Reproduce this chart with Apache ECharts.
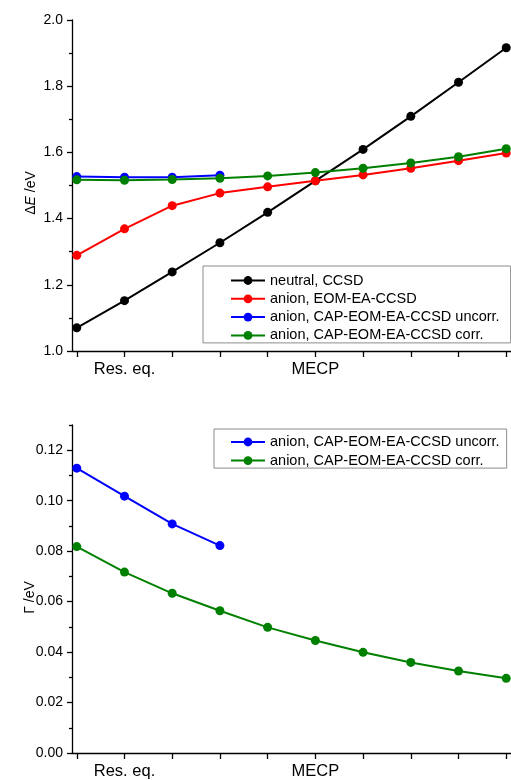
<!DOCTYPE html>
<html>
<head>
<meta charset="utf-8">
<script src="https://cdn.jsdelivr.net/npm/echarts@6/dist/echarts.min.js"></script>
<style>
  html, body { margin: 0; padding: 0; background: #ffffff; }
  #chart { width: 511px; height: 780px; }
</style>
</head>
<body>
<div id="chart"></div>
<script>
// Points along the reaction path (structure index)
const pathIndex = [0, 1, 2, 3, 4, 5, 6, 7, 8, 9];
const pathLabelAt = [1, 5];
const pathLabelText = ['Res. eq.', 'MECP'];

// Energies, eV
const neutralCCSD     = [1.070, 1.152, 1.239, 1.327, 1.419, 1.514, 1.609, 1.709, 1.812, 1.916];
const anionEOM        = [1.289, 1.369, 1.439, 1.477, 1.496, 1.514, 1.532, 1.552, 1.575, 1.598];
const anionCapUncorrE = [1.527, 1.525, 1.525, 1.531];
const anionCapCorrE   = [1.517, 1.516, 1.518, 1.522, 1.529, 1.539, 1.552, 1.568, 1.587, 1.611];

// Resonance widths, eV
const anionCapUncorrW = [0.1129, 0.1018, 0.0908, 0.0822];
const anionCapCorrW   = [0.0818, 0.0717, 0.0633, 0.0564, 0.0498, 0.0446, 0.0399, 0.0359, 0.0325, 0.0296];

// Axis ticks
const widthMajorTicks = [0, 0.02, 0.04, 0.06, 0.08, 0.10, 0.12];
const widthMinorTicks = [0.01, 0.03, 0.05, 0.07, 0.09, 0.11, 0.13];

const names = [
  'neutral, CCSD',
  'anion, EOM-EA-CCSD',
  'anion, CAP-EOM-EA-CCSD uncorr.',
  'anion, CAP-EOM-EA-CCSD corr.'
];
const colors = ['#000000', '#ff0000', '#0000ff', '#008000'];

const FONT = "'Liberation Sans', Arial, Helvetica, sans-serif";
const axisStroke = { color: '#000000', width: 1.3 };

function pairs(values) {
  return values.map((v, i) => [pathIndex[i], v]);
}

function pathAxis(gridIndex) {
  return {
    type: 'value', gridIndex: gridIndex, min: -0.1, max: 9.1,
    splitLine: { show: false },
    axisLine: { show: true, onZero: false, lineStyle: axisStroke },
    axisTick: { show: true, customValues: pathIndex, length: 6, lineStyle: axisStroke },
    axisLabel: {
      customValues: pathLabelAt,
      formatter: v => { const k = pathLabelAt.indexOf(Math.round(v)); return k >= 0 ? pathLabelText[k] : ''; },
      fontFamily: FONT, fontSize: 16.5, color: '#000000', margin: 10
    }
  };
}

function lineSeries(name, color, values, gridIdx, yIdx) {
  return {
    name: name, type: 'line', xAxisIndex: gridIdx, yAxisIndex: yIdx,
    data: pairs(values),
    symbol: 'circle', symbolSize: 9, showSymbol: true,
    lineStyle: { color: color, width: 2 },
    itemStyle: { color: color, borderWidth: 0 },
    emphasis: { disabled: true },
    animation: false
  };
}

const legendText = { fontFamily: FONT, fontSize: 14.5, color: '#000000' };

const option = {
  backgroundColor: '#ffffff',
  animation: false,
  grid: [
    { left: 72, top: 20, width: 441.6, height: 331 },
    { left: 72, top: 425, width: 441.6, height: 331 }
  ],
  xAxis: [pathAxis(0), pathAxis(1)],
  yAxis: [
    {
      type: 'value', gridIndex: 0, position: 'left', min: 1.0, max: 2.0, interval: 0.2,
      splitLine: { show: false },
      axisLine: { show: true, onZero: false, lineStyle: axisStroke },
      axisTick: { show: true, length: 5, lineStyle: axisStroke },
      minorTick: { show: true, splitNumber: 2, length: 3, lineStyle: axisStroke },
      axisLabel: { formatter: v => v.toFixed(1), fontFamily: FONT, fontSize: 14, color: '#000000', margin: 9 }
    },
    {
      type: 'value', gridIndex: 1, position: 'left', min: 0, max: 0.13,
      splitLine: { show: false },
      axisLine: { show: true, onZero: false, lineStyle: axisStroke },
      axisTick: { show: true, customValues: widthMajorTicks, length: 5, lineStyle: axisStroke },
      axisLabel: { customValues: widthMajorTicks, formatter: v => v.toFixed(2), fontFamily: FONT, fontSize: 14, color: '#000000', margin: 9 }
    },
    {
      type: 'value', gridIndex: 1, position: 'left', min: 0, max: 0.13,
      splitLine: { show: false },
      axisLine: { show: false, onZero: false },
      axisTick: { show: true, customValues: widthMinorTicks, length: 3, lineStyle: axisStroke },
      axisLabel: { show: false }
    }
  ],
  legend: [
    {
      orient: 'vertical', left: 203, top: 266,
      padding: [7, 11, 0, 27], itemGap: 3.3, itemWidth: 34, itemHeight: 11,
      borderColor: '#8c8c8c', borderWidth: 1, backgroundColor: '#ffffff',
      selectedMode: false,
      data: names, textStyle: legendText
    },
    {
      orient: 'vertical', left: 214, top: 429,
      padding: [5.5, 7, 0, 16], itemGap: 3.6, itemWidth: 34, itemHeight: 11,
      borderColor: '#8c8c8c', borderWidth: 1, backgroundColor: '#ffffff',
      selectedMode: false,
      data: [names[2], names[3]], textStyle: legendText
    }
  ],
  graphic: [
    {
      type: 'text', x: 31.5, y: 193, rotation: Math.PI / 2,
      style: {
        text: '{n|Δ}{i|E}{n| /eV}',
        rich: {
          n: { fontFamily: FONT, fontSize: 14, fill: '#000000' },
          i: { fontFamily: FONT, fontSize: 14, fontStyle: 'italic', fill: '#000000' }
        },
        align: 'center', verticalAlign: 'middle'
      }
    },
    {
      type: 'text', x: 30, y: 597.5, rotation: Math.PI / 2,
      style: {
        text: 'Γ /eV', fontFamily: FONT, fontSize: 14, fill: '#000000',
        align: 'center', verticalAlign: 'middle'
      }
    }
  ],
  series: [
    lineSeries(names[0], colors[0], neutralCCSD, 0, 0),
    lineSeries(names[1], colors[1], anionEOM, 0, 0),
    lineSeries(names[2], colors[2], anionCapUncorrE, 0, 0),
    lineSeries(names[3], colors[3], anionCapCorrE, 0, 0),
    lineSeries(names[2], colors[2], anionCapUncorrW, 1, 1),
    lineSeries(names[3], colors[3], anionCapCorrW, 1, 1)
  ]
};

const chart = echarts.init(document.getElementById('chart'), null, { renderer: 'canvas' });
chart.setOption(option);
</script>
</body>
</html>
